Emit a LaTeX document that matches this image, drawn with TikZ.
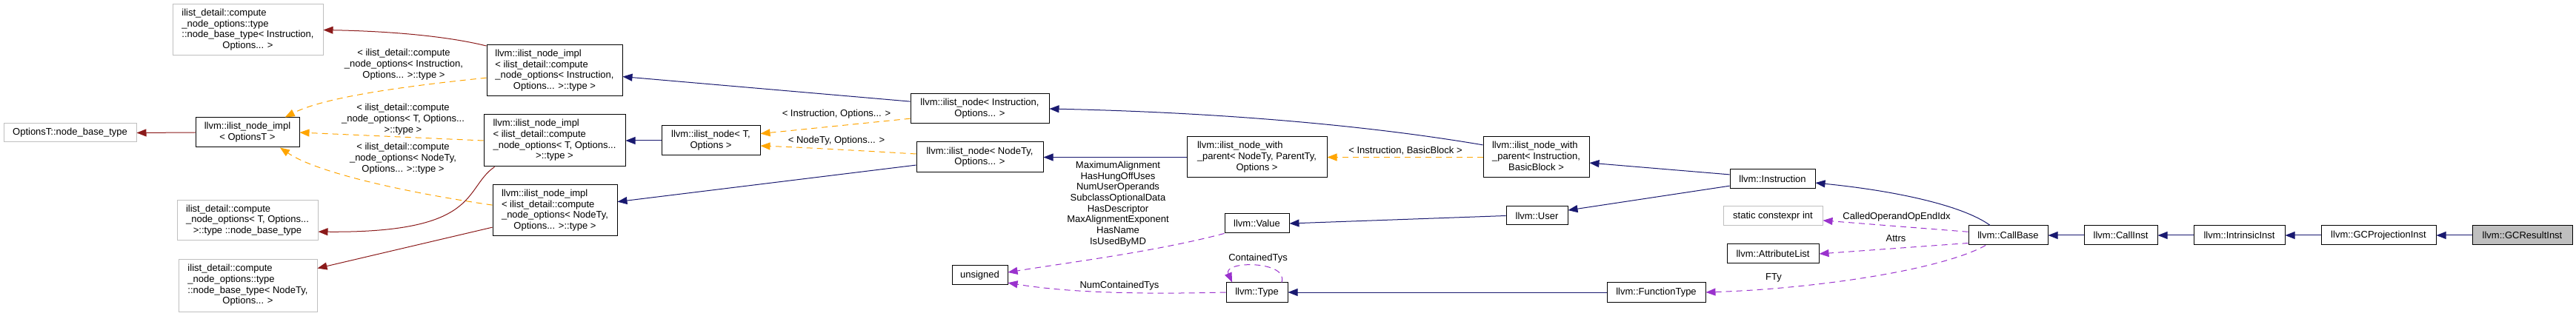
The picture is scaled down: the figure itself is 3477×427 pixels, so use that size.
\documentclass[tikz,border=0pt]{standalone}
\usepackage{fontspec}
\newfontfamily\dsans{Liberation Sans}
\usetikzlibrary{arrows.meta}
\definecolor{dblue}{HTML}{191970}
\definecolor{dbrown}{HTML}{8B1A1A}
\definecolor{dorange}{HTML}{FFA500}
\definecolor{dpurple}{HTML}{9A32CD}
\definecolor{dgray}{HTML}{BFBFBF}
\newcommand\dfont{\dsans\fontsize{13}{14.7}\selectfont}
\newcommand\dlines[2]{\begin{tabular}{@{}l@{}}#1\\\multicolumn{1}{@{}c@{}}{#2}\end{tabular}}
\tikzset{
  box/.style={draw=black, fill=white, line width=1pt, inner sep=0pt, font=\dfont},
  gbox/.style={box, draw=dgray},
  lab/.style={font=\dfont, align=center, inner sep=0pt, text=black},
  tip/.style={-{Triangle[length=13pt,width=10pt]}},
  pub/.style={tip, draw=dblue, line width=1pt},
  priv/.style={tip, draw=dbrown, line width=1pt},
  tmpl/.style={tip, draw=dorange, line width=1pt, dash pattern=on 8pt off 6pt},
  use/.style={tip, draw=dpurple, line width=1pt, dash pattern=on 8pt off 6pt},
}
\begin{document}
\begin{tikzpicture}[x=1pt,y=-1pt]
\path[fill=white,use as bounding box] (0,0) rectangle (3477,427);
% nodes
\node[gbox, minimum width=203pt, minimum height=69pt] (nbtI) at (334.5,40.5) {\dlines{ilist\_detail::compute\\\_node\_options::type\\::node\_base\_type< Instruction,}{Options... >}};
\node[gbox, minimum width=179pt, minimum height=25pt] (optT) at (94.5,179.5) {OptionsT::node\_base\_type};
\node[box, minimum width=140pt, minimum height=40pt] (implO) at (334,179) {\dlines{llvm::ilist\_node\_impl}{< OptionsT >}};
\node[gbox, minimum width=190pt, minimum height=54pt] (nbtT) at (334,298) {\dlines{ilist\_detail::compute\\\_node\_options< T, Options...}{>::type ::node\_base\_type}};
\node[gbox, minimum width=187pt, minimum height=70pt] (nbtN) at (334.5,386) {\dlines{ilist\_detail::compute\\\_node\_options::type\\::node\_base\_type< NodeTy,}{Options... >}};
\node[box, minimum width=183pt, minimum height=69pt] (implI) at (748.5,95.5) {\dlines{llvm::ilist\_node\_impl\\< ilist\_detail::compute\\\_node\_options< Instruction,}{Options... >::type >}};
\node[box, minimum width=191pt, minimum height=70pt] (implT) at (748.5,190) {\dlines{llvm::ilist\_node\_impl\\< ilist\_detail::compute\\\_node\_options< T, Options...}{>::type >}};
\node[box, minimum width=168pt, minimum height=69pt] (implN) at (749,284.5) {\dlines{llvm::ilist\_node\_impl\\< ilist\_detail::compute\\\_node\_options< NodeTy,}{Options... >::type >}};
\node[box, minimum width=133pt, minimum height=40pt] (nodeT) at (959.5,190) {\dlines{llvm::ilist\_node< T,}{Options >}};
\node[box, minimum width=187pt, minimum height=40pt] (nodeI) at (1322.5,147) {\dlines{llvm::ilist\_node< Instruction,}{Options... >}};
\node[box, minimum width=171pt, minimum height=41pt] (nodeN) at (1322.5,212.5) {\dlines{llvm::ilist\_node< NodeTy,}{Options... >}};
\node[box, minimum width=189pt, minimum height=55pt] (nwpN) at (1696.5,212.5) {\dlines{llvm::ilist\_node\_with\\\_parent< NodeTy, ParentTy,}{Options >}};
\node[box, minimum width=143pt, minimum height=55pt] (nwpI) at (2073.5,212.5) {\dlines{llvm::ilist\_node\_with\\\_parent< Instruction,}{BasicBlock >}};
\node[box, minimum width=75pt, minimum height=26pt] (unsig) at (1322.5,372) {unsigned};
\node[box, minimum width=87pt, minimum height=26pt] (value) at (1696.5,302) {llvm::Value};
\node[box, minimum width=83pt, minimum height=26pt] (type) at (1696.5,395) {llvm::Type};
\node[box, minimum width=115pt, minimum height=26pt] (instr) at (2392.5,242) {llvm::Instruction};
\node[box, minimum width=83pt, minimum height=25pt] (user) at (2074.5,291.5) {llvm::User};
\node[gbox, minimum width=134pt, minimum height=26pt] (sci) at (2393,292) {static constexpr int};
\node[box, minimum width=124pt, minimum height=26pt] (attr) at (2393,343) {llvm::AttributeList};
\node[box, minimum width=133pt, minimum height=26pt] (ftype) at (2235.5,395) {llvm::FunctionType};
\node[box, minimum width=107pt, minimum height=26pt] (cbase) at (2710.5,318) {llvm::CallBase};
\node[box, minimum width=99pt, minimum height=26pt] (cinst) at (2862.5,318) {llvm::CallInst};
\node[box, minimum width=123pt, minimum height=26pt] (iinst) at (3022.5,318) {llvm::IntrinsicInst};
\node[box, minimum width=155pt, minimum height=26pt] (gcp) at (3210.5,318) {llvm::GCProjectionInst};
\node[box, fill=dgray, minimum width=135pt, minimum height=26pt] (gcr) at (3404.5,318) {llvm::GCResultInst};
% labels
\node[lab] (l1) at (545,87) {< ilist\_detail::compute\\\_node\_options< Instruction,\\Options... >::type >};
\node[lab] (l2) at (544,161) {< ilist\_detail::compute\\\_node\_options< T, Options...\\>::type >};
\node[lab] (l3) at (544,214) {< ilist\_detail::compute\\\_node\_options< NodeTy,\\Options... >::type >};
\node[lab] (l4) at (1129,154) {< Instruction, Options... >};
\node[lab] (l5) at (1129,190) {< NodeTy, Options... >};
\node[lab] (l6) at (1897,204) {< Instruction, BasicBlock >};
\node[lab] (l7) at (1509,275.5) {MaximumAlignment\\HasHungOffUses\\NumUserOperands\\SubclassOptionalData\\HasDescriptor\\MaxAlignmentExponent\\HasName\\IsUsedByMD};
\node[lab] (l8) at (1698,349) {ContainedTys};
\node[lab] (l9) at (1511,386) {NumContainedTys};
\node[lab] (l10) at (2394,375) {FTy};
\node[lab] (l11) at (2560,293) {CalledOperandOpEndIdx};
\node[lab] (l12) at (2559,322) {Attrs};
% edges
\draw[priv] (implO.west) -- (optT.east);
\draw[priv] (implI.160) .. controls (600,48) and (520,42) .. (nbtI.east);
\draw[priv] ([xshift=15pt]implT.south west) .. controls (625,255) and (650,315) .. (nbtT.351);
\draw[priv] (implN.195) -- (nbtN.14);
\draw[tmpl] (implI.186) .. controls (560,115) and (440,130) .. (implO.22);
\draw[tmpl] (implT.west) -- (implO.east);
\draw[tmpl] (implN.175) .. controls (560,262) and (430,235) .. (implO.335);
\draw[pub] (nodeI.174) -- (implI.355);
\draw[pub] (nodeT.west) -- (implT.east);
\draw[pub] (nodeN.187) -- (implN.8);
\draw[tmpl] (nodeI.188) -- (nodeT.8);
\draw[tmpl] (nodeN.177) .. controls (1150,203) and (1080,199) .. (nodeT.354);
\draw[pub] (nwpN.west) -- (nodeN.east);
\draw[tmpl] (nwpI.west) -- (nwpN.east);
\draw[pub] (nwpI.167) .. controls (1850,170) and (1650,152) .. (nodeI.east);
\draw[pub] (instr.174) -- (nwpI.354);
\draw[pub] (instr.189) -- (user.10);
\draw[pub] (user.west) -- (value.east);
\draw[pub] (cbase.151) .. controls (2650,278) and (2560,258) .. (instr.355);
\draw[pub] (ftype.west) -- (type.east);
\draw[use] (value.197) .. controls (1560,340) and (1440,355) .. (unsig.6);
\draw[use] (type.west) .. controls (1530,398) and (1440,395) .. (unsig.345);
\draw[use] (type.22) .. controls (1740,352) and (1650,352) .. (type.158);
\draw[use] (cbase.175) -- (sci.355);
\draw[use] (cbase.191) -- (attr.east);
\draw[use] (cbase.204) .. controls (2620,365) and (2450,390) .. (ftype.east);
\draw[pub] (cinst.west) -- (cbase.east);
\draw[pub] (iinst.west) -- (cinst.east);
\draw[pub] (gcp.west) -- (iinst.east);
\draw[pub] (gcr.west) -- (gcp.east);
\end{tikzpicture}
\end{document}
